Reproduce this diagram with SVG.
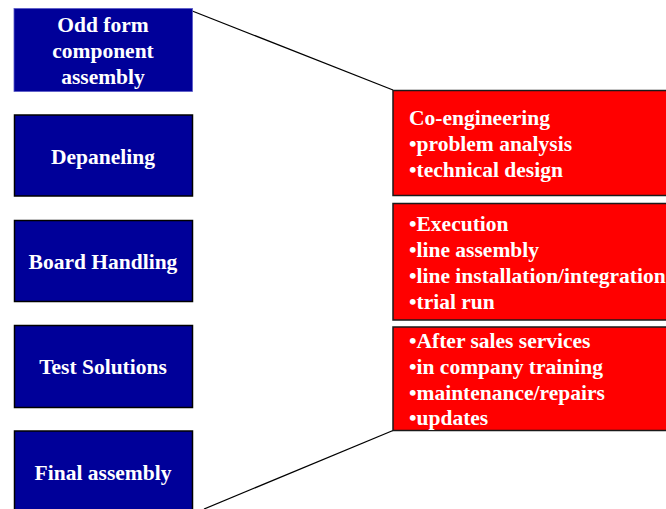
<svg xmlns="http://www.w3.org/2000/svg" width="666" height="509" viewBox="0 0 666 509">
  <style>
    .blue { fill: #000099; stroke: #000000; stroke-width: 1.5; }
    .blue-plain { fill: #000099; stroke: #5a5ac8; stroke-width: 0.8; }
    .red { fill: #ff0000; stroke: #1a1a1a; stroke-width: 1.5; }
    .label { font-family: "Liberation Serif", "Times New Roman", serif; font-weight: bold; font-size: 21.5px; fill: #ffffff; }
    .center { text-anchor: middle; }
    .link { stroke: #000000; stroke-width: 1.3; fill: none; }
  </style>
  <rect width="666" height="509" fill="#ffffff"/>

  <g id="connectors">
    <line class="link" x1="191" y1="10.5" x2="393" y2="90"/>
    <line class="link" x1="204" y1="509" x2="393" y2="430.5"/>
  </g>

  <g id="odd-form">
    <rect class="blue-plain" x="14" y="8.5" width="178.5" height="83"/>
    <text class="label center" x="103" y="31.5">Odd form</text>
    <text class="label center" x="103" y="57.5">component</text>
    <text class="label center" x="103" y="83.5">assembly</text>
  </g>

  <g id="depaneling">
    <rect class="blue" x="14.5" y="115" width="178" height="81"/>
    <text class="label center" x="103" y="164">Depaneling</text>
  </g>

  <g id="board-handling">
    <rect class="blue" x="14.5" y="220.5" width="178" height="81"/>
    <text class="label center" x="103" y="268.5">Board Handling</text>
  </g>

  <g id="test-solutions">
    <rect class="blue" x="14.5" y="325.5" width="178" height="82"/>
    <text class="label center" x="103" y="374">Test Solutions</text>
  </g>

  <g id="final-assembly">
    <rect class="blue" x="14.5" y="431" width="178" height="82"/>
    <text class="label center" x="103" y="480">Final assembly</text>
  </g>

  <g id="co-engineering">
    <rect class="red" x="393" y="90.5" width="280" height="105"/>
    <text class="label" x="409" y="124.5">Co-engineering</text>
    <text class="label" x="409" y="150.5">•problem analysis</text>
    <text class="label" x="409" y="176.5">•technical design</text>
  </g>

  <g id="execution">
    <rect class="red" x="393" y="203.5" width="280" height="116.5"/>
    <text class="label" x="409" y="231">•Execution</text>
    <text class="label" x="409" y="257">•line assembly</text>
    <text class="label" x="409" y="283">•line installation/integration</text>
    <text class="label" x="409" y="309">•trial run</text>
  </g>

  <g id="after-sales">
    <rect class="red" x="393" y="327" width="280" height="103.5"/>
    <text class="label" x="409" y="347.5">•After sales services</text>
    <text class="label" x="409" y="373.5">•in company training</text>
    <text class="label" x="409" y="399.5">•maintenance/repairs</text>
    <text class="label" x="409" y="425">•updates</text>
  </g>
</svg>
